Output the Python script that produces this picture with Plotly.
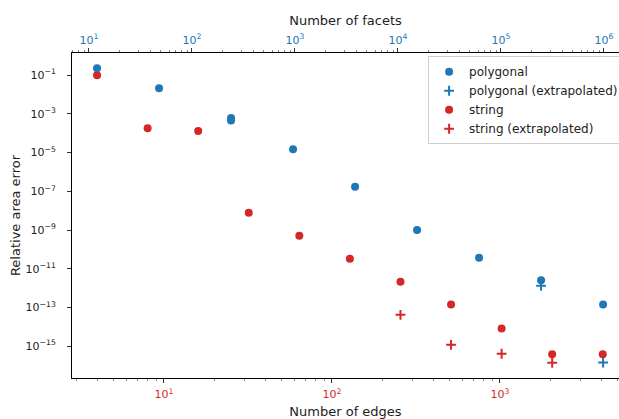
import plotly.graph_objects as go

# --- data -------------------------------------------------------------
# polygonal approximation: number of facets vs relative area error
poly_facets = [12, 48, 240, 240, 960, 3840, 15360, 61440, 245760, 983040]
poly_error = [2.3e-1, 2.1e-2, 6.2e-4, 4.6e-4, 1.5e-5, 1.7e-7, 1.0e-9, 3.7e-11, 2.5e-12, 1.4e-13]

poly_ext_facets = [245760, 983040]
poly_ext_error = [1.3e-12, 1.4e-16]

# string approximation: number of edges vs relative area error
string_edges = [4, 8, 16, 32, 64, 128, 256, 512, 1024, 2048, 4096]
string_error = [1.0e-1, 1.8e-4, 1.3e-4, 7.8e-9, 5.0e-10, 3.3e-11, 2.1e-12, 1.4e-13, 8.0e-15, 3.8e-16, 3.8e-16]

string_ext_edges = [256, 512, 1024, 2048]
string_ext_error = [4.1e-14, 1.15e-15, 4.0e-16, 1.36e-16]

# tick labels
y_exps = [-1, -3, -5, -7, -9, -11, -13, -15]
edge_exps = [1, 2, 3]
facet_exps = [1, 2, 3, 4, 5, 6]

BLUE = "#1f77b4"
RED = "#d62728"
FONT = "DejaVu Sans"


def pow_label(e):
    s = str(e).replace("-", "\u2212")
    return f"10<sup>{s}</sup>"


def minor_vals(lo, hi):
    return [k * 10 ** d for d in range(lo, hi + 1) for k in range(2, 10)]


fig = go.Figure()

fig.add_trace(go.Scatter(
    x=poly_facets, y=poly_error, mode="markers", name="polygonal",
    xaxis="x2", yaxis="y",
    marker=dict(symbol="circle", size=8, color=BLUE, line=dict(width=0)),
))
fig.add_trace(go.Scatter(
    x=poly_ext_facets, y=poly_ext_error, mode="markers", name="polygonal (extrapolated)",
    xaxis="x2", yaxis="y",
    marker=dict(symbol="cross-thin", size=7, color=BLUE, line=dict(width=2, color=BLUE)),
))
fig.add_trace(go.Scatter(
    x=string_edges, y=string_error, mode="markers", name="string",
    xaxis="x", yaxis="y",
    marker=dict(symbol="circle", size=8, color=RED, line=dict(width=0)),
))
fig.add_trace(go.Scatter(
    x=string_ext_edges, y=string_ext_error, mode="markers", name="string (extrapolated)",
    xaxis="x", yaxis="y",
    marker=dict(symbol="cross-thin", size=7, color=RED, line=dict(width=2, color=RED)),
))

axis_common = dict(
    type="log", showgrid=False, zeroline=False, showline=True,
    linecolor="black", linewidth=1, ticks="outside", ticklen=4, tickcolor="#333",
)

fig.update_layout(
    width=619, height=419,
    margin=dict(l=72, r=0, t=53, b=41, autoexpand=False),
    paper_bgcolor="white", plot_bgcolor="white",
    font=dict(family=FONT, size=11, color="#222"),
    showlegend=True,
    legend=dict(
        x=0.651, y=0.99, xanchor="left", yanchor="top",
        bgcolor="rgba(255,255,255,0.85)", bordercolor="#d0d0d0", borderwidth=1,
        font=dict(family=FONT, size=12, color="#222"),
        tracegroupgap=0,
    ),
    xaxis=dict(
        **axis_common,
        range=[0.453, 3.709],
        tickvals=[10 ** e for e in edge_exps],
        ticktext=[pow_label(e) for e in edge_exps],
        tickfont=dict(family=FONT, size=11, color=RED),
        ticklabelstandoff=2,
        minor=dict(tickvals=minor_vals(0, 3), ticks="outside", ticklen=2, tickcolor="#888", showgrid=False),
        title=dict(text="Number of edges", font=dict(family=FONT, size=13, color="#222"), standoff=11),
        side="bottom",
    ),
    xaxis2=dict(
        **axis_common,
        range=[0.836, 6.147],
        overlaying="x", side="top", anchor="y",
        tickvals=[10 ** e for e in facet_exps],
        ticktext=[pow_label(e) for e in facet_exps],
        tickfont=dict(family=FONT, size=11, color=BLUE),
        minor=dict(tickvals=minor_vals(0, 6), ticks="outside", ticklen=2, tickcolor="#888", showgrid=False),
        title=dict(text="Number of facets", font=dict(family=FONT, size=13, color="#222"), standoff=3),
    ),
    yaxis=dict(
        **axis_common,
        range=[-16.652, 0.151],
        tickvals=[10 ** e for e in y_exps],
        ticktext=[pow_label(e) for e in y_exps],
        tickfont=dict(family=FONT, size=11, color="#222"),
        ticklabelstandoff=9,
        title=dict(text="Relative area error", font=dict(family=FONT, size=13, color="#222"), standoff=2),
    ),
)

fig.write_html("out.html")
